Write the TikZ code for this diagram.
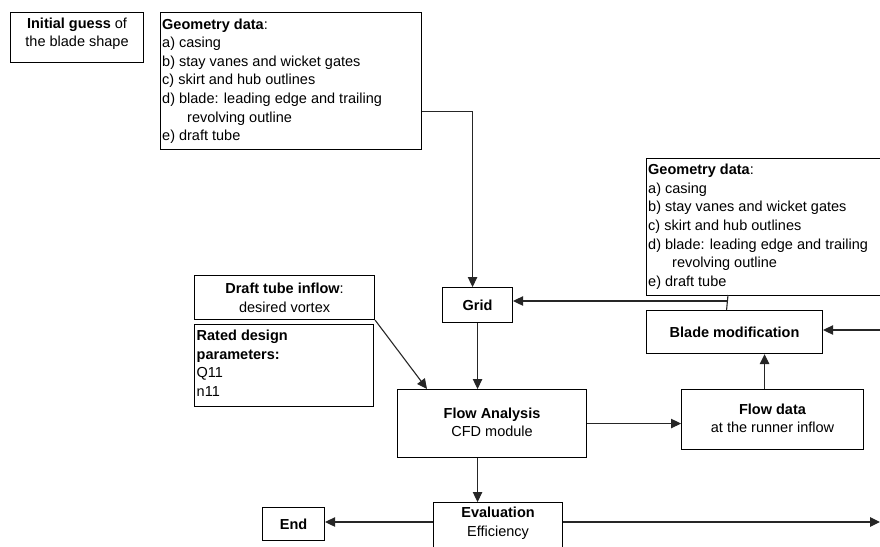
\documentclass[tikz,border=0pt]{standalone}
\usepackage{fontspec}
\setmainfont{Liberation Sans}
\usetikzlibrary{arrows.meta}
\begin{document}
\begin{tikzpicture}[x=1pt,y=-1pt,
  box/.style={draw=black, line width=1.1pt, inner sep=0pt, anchor=north west},
  txt/.style={inner sep=0pt, font=\fontsize{14.5}{18.6}\selectfont},
  conn/.style={draw=black!85, line width=1.1pt},
  arr/.style={conn, -{Triangle[length=10pt,width=9.5pt]}}]
\useasboundingbox (0,0) rectangle (880,546);
\clip (0,0) rectangle (880,546);
% boxes
\node[box, minimum width=133pt, minimum height=50pt] (init) at (10,12) {};
\node[txt, align=center, anchor=north] (initT) at ([yshift=-5.5pt]init.north) {\textbf{Initial guess} of\\the blade shape};

\node[box, minimum width=261pt, minimum height=137pt] (geo1) at (160,12) {};
\node[txt, align=left, anchor=north west] (geo1T) at ([xshift=2pt,yshift=-6.3pt]geo1.north west)
 {\textbf{Geometry data}:\\a) casing\\b) stay vanes and wicket gates\\c) skirt and hub outlines\\d) blade: leading edge and trailing\\\hspace*{25pt}revolving outline\\e) draft tube};

\node[box, minimum width=234pt, minimum height=137pt] (geo2) at (645.5,158) {};
\node[txt, align=left, anchor=north west] (geo2T) at ([xshift=2.5pt,yshift=-6pt]geo2.north west)
 {\textbf{Geometry data}:\\a) casing\\b) stay vanes and wicket gates\\c) skirt and hub outlines\\d) blade: leading edge and trailing\\\hspace*{24pt}revolving outline\\e) draft tube};

\node[box, minimum width=70pt, minimum height=35pt] (grid) at (442,287) {};
\node[txt] (gridT) at (grid.center) {\textbf{Grid}};

\node[box, minimum width=176pt, minimum height=43pt] (blade) at (646,310) {};
\node[txt] (bladeT) at (blade.center) {\textbf{Blade modification}};

\node[box, minimum width=180pt, minimum height=44pt] (draft) at (194,275) {};
\node[txt, align=center, anchor=north] (draftT) at ([yshift=-8pt]draft.north) {\textbf{Draft tube inflow}:\\desired vortex};

\node[box, minimum width=179pt, minimum height=82pt] (rated) at (194,324) {};
\node[txt, align=left, anchor=north west] (ratedT) at ([xshift=2.5pt,yshift=-6pt]rated.north west)
 {\textbf{Rated design}\\\textbf{parameters:}\\Q11\\n11};

\node[box, minimum width=189pt, minimum height=68pt] (flow) at (397,389) {};
\node[txt, align=center, anchor=north] (flowT) at ([yshift=-18.5pt]flow.north) {\textbf{Flow Analysis}\\CFD module};

\node[box, minimum width=182pt, minimum height=60pt] (fdata) at (681,389) {};
\node[txt, align=center, anchor=north] (fdataT) at ([yshift=-14.3pt]fdata.north) {\textbf{Flow data}\\at the runner inflow};

\node[box, minimum width=129pt, minimum height=70pt] (eval) at (433,502) {};
\node[txt, align=center, anchor=north] (evalT) at ([yshift=-4.7pt]eval.north) {\textbf{Evaluation}\\Efficiency};

\node[box, minimum width=62pt, minimum height=33pt] (endn) at (262,507) {};
\node[txt] (endT) at (endn.center) {\textbf{End}};

% connectors
\draw[arr] ([yshift=-30.5pt]geo1.east) -| ([xshift=-5pt]grid.north);
\coordinate (g2b) at (728,295);
\coordinate (junc) at (727,301);
\draw[conn] (g2b) -- ([xshift=-8pt]blade.north);
\draw[arr] (junc) -- (junc -| grid.east);
\coordinate (rin) at (880,330);
\draw[arr] (rin) -- (rin -| blade.east);
\draw[arr] (draft.south east) -- ([xshift=30pt]flow.north west);
\draw[arr] (grid.south) -- (grid.south |- flow.north);
\draw[arr] (flow.east) -- (flow.east -| fdata.west);
\draw[arr] ([xshift=-8pt]fdata.north) -- ([xshift=-8pt]fdata.north |- blade.south);
\draw[arr] ([xshift=-14.5pt]flow.south) -- ([xshift=-14.5pt]flow.south |- eval.north);
\draw[arr] ([yshift=-20pt]eval.north west) -- ([yshift=-20pt]eval.north west -| endn.east);
\coordinate (rout) at (880,522);
\draw[arr] ([yshift=-20pt]eval.north east) -- (rout);
\end{tikzpicture}
\end{document}
